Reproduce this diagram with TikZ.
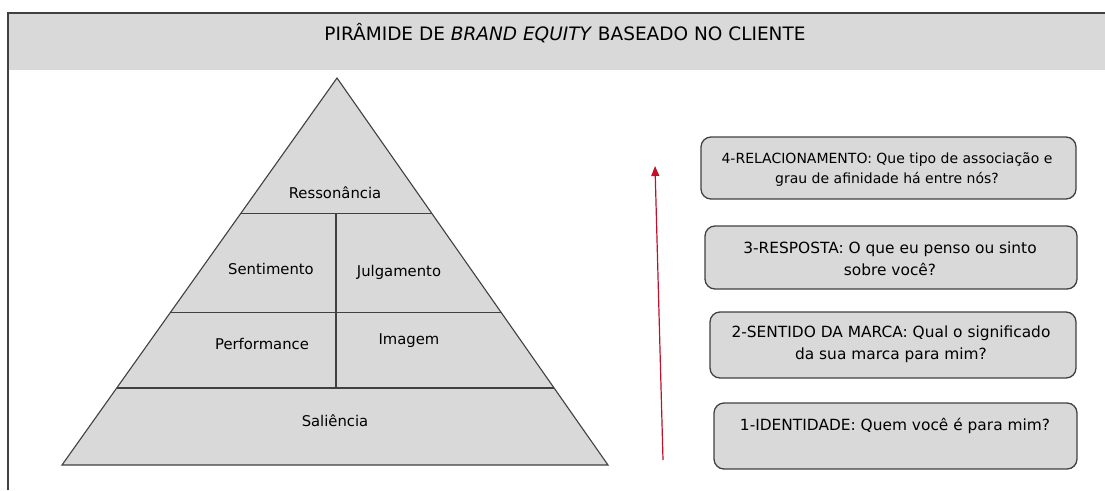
\documentclass[tikz,border=0pt]{standalone}
\usepackage{fontspec}
\setmainfont{DejaVu Sans}
\usetikzlibrary{arrows.meta,calc}
\definecolor{panelgray}{HTML}{D9D9D9}
\definecolor{edgegray}{HTML}{404040}
\definecolor{arrowred}{HTML}{C0102A}
\begin{document}
\begin{tikzpicture}[x=1pt,y=-1pt,
  pyrline/.style={draw=edgegray,line width=1.1pt},
  pyrlabel/.style={font=\fontsize{14.8}{17}\selectfont,text=black,inner sep=0pt},
  qbox/.style={draw=edgegray,fill=panelgray,line width=1.3pt,rounded corners=10pt,inner sep=0pt},
  qtext/.style={font=\fontsize{15.4}{22}\selectfont,align=center,inner sep=0pt,text=black},
  frameline/.style={draw=edgegray,line width=1.2pt}]
\useasboundingbox (0,0) rectangle (1105,490);
% header band and frame
\fill[panelgray] (8,13) rectangle (1105,70);
\draw[frameline] (8,490) -- (8,13) -- (1105,13);
\node[inner sep=0pt,font=\fontsize{18.5}{21}\selectfont] (title) at (565,33) {PIRÂMIDE DE \textit{BRAND EQUITY} BASEADO NO CLIENTE};
% pyramid
\coordinate (apex) at (337,78);
\coordinate (bl) at (62,465);
\coordinate (br) at (608,465);
\filldraw[pyrline,fill=panelgray] (apex) -- (br) -- (bl) -- cycle;
\coordinate (l1) at ($(apex)!0.349!(bl)$);
\coordinate (r1) at ($(apex)!0.349!(br)$);
\coordinate (l2) at ($(apex)!0.605!(bl)$);
\coordinate (r2) at ($(apex)!0.605!(br)$);
\coordinate (l3) at ($(apex)!0.801!(bl)$);
\coordinate (r3) at ($(apex)!0.801!(br)$);
\coordinate (vt) at (336,213);
\coordinate (vb) at (336,388);
\draw[pyrline] (l1) -- (r1);
\draw[pyrline] (l2) -- (r2);
\draw[pyrline] (l3) -- (r3);
\draw[pyrline] (vt) -- (vb);
\node[pyrlabel] (resson) at (335,193) {Ressonância};
\node[pyrlabel] (sentim) at (271,269) {Sentimento};
\node[pyrlabel] (julgam) at (399,272) {Julgamento};
\node[pyrlabel] (perfor) at (262,344) {Performance};
\node[pyrlabel] (imagem) at (409,341) {Imagem};
\node[pyrlabel] (salien) at (335,421) {Saliência};
% arrow
\coordinate (arrlow) at (663,460);
\coordinate (arrtop) at (655,166);
\draw[arrowred,line width=1.2pt,-{Triangle[width=8pt,length=10pt]}] (arrlow) -- (arrtop);
% boxes
\node[qbox,minimum width=375pt,minimum height=62pt] (box4) at (888.5,168) {};
\node[qbox,minimum width=372pt,minimum height=63pt] (box3) at (891,257.5) {};
\node[qbox,minimum width=366pt,minimum height=66pt] (box2) at (893,345) {};
\node[qbox,minimum width=363pt,minimum height=66pt] (box1) at (895.5,436) {};
\node[qtext,font=\fontsize{14}{20}\selectfont] (t4) at (887,170) {4-RELACIONAMENTO: Que tipo de associação e\\grau de afinidade há entre nós?};
\node[qtext] (t3) at (890,259) {3-RESPOSTA: O que eu penso ou sinto\\sobre você?};
\node[qtext] (t2) at (891,344.5) {2-SENTIDO DA MARCA: Qual o significado\\da sua marca para mim?};
\node[qtext] (t1) at (895,426) {1-IDENTIDADE: Quem você é para mim?};
\end{tikzpicture}
\end{document}
